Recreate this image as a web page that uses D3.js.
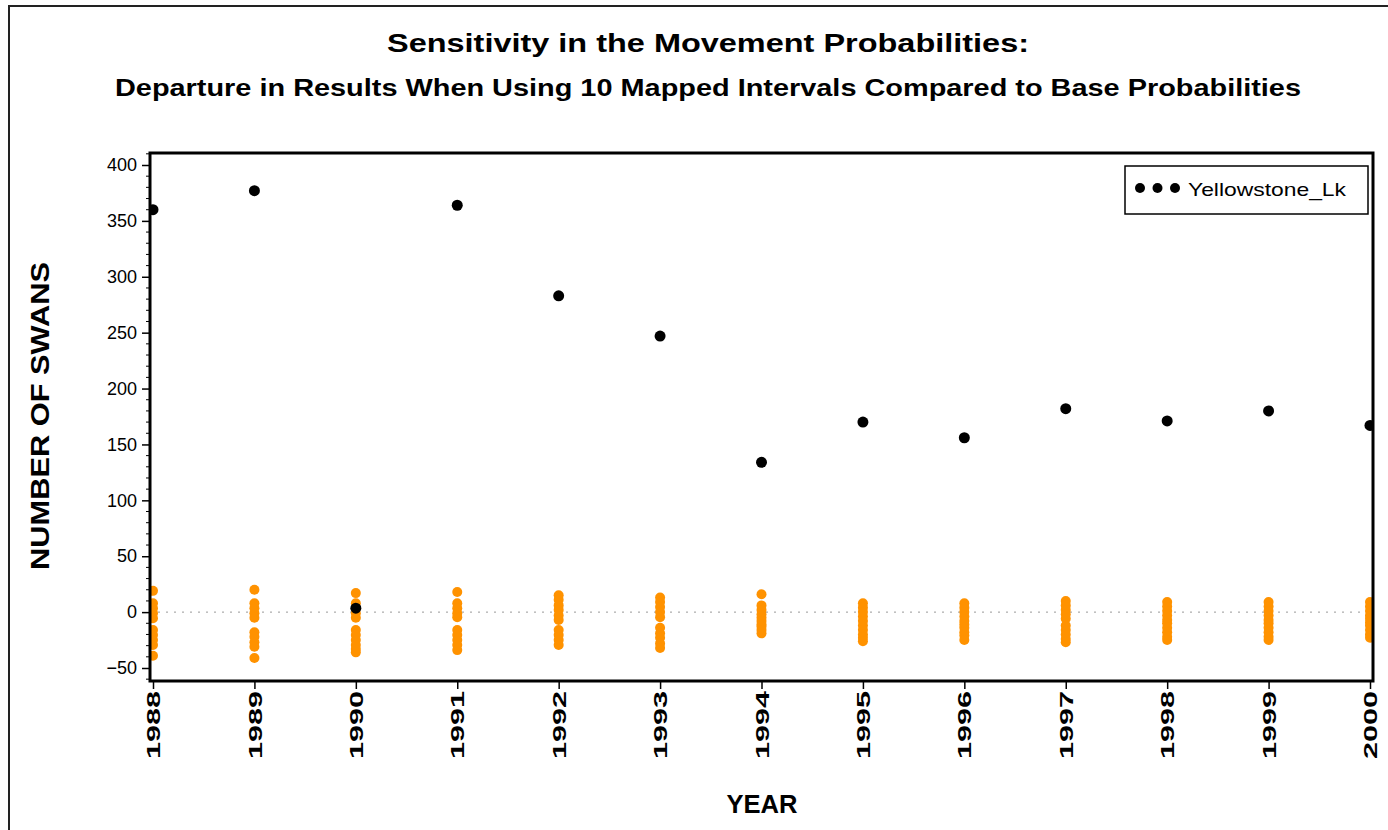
<!DOCTYPE html>
<html>
<head>
<meta charset="utf-8">
<script src="https://cdn.jsdelivr.net/npm/d3@7"></script>
<style>
  body { margin: 0; background: #fff; }
  text { font-family: "Liberation Sans", Arial, sans-serif; fill: #000; }
</style>
</head>
<body>
<div id="chart"></div>
<script>
// years on the x axis
var years = [1988, 1989, 1990, 1991, 1992, 1993, 1994, 1995, 1996, 1997, 1998, 1999, 2000];

// Yellowstone_Lk departure, one per year
var yellowstone = [360, 377, 3.5, 364, 283, 247, 134, 170, 156, 182, 171, 180, 167];

// other sites, ten departures per year (orange)
var others1988 = [19, 8, 3.5, -1, -5.5, -16, -20.5, -25, -29.5, -39];
var others1989 = [20, 8, 3.5, -1, -5, -18, -22, -27, -31, -41];
var others1990 = [17, 8, -1, -5, -16, -20.5, -25, -29.5, -33, -36];
var others1991 = [18, 8, 3.5, -1, -4.5, -16, -20.5, -25, -29.5, -34];
var others1992 = [15, 11, 6, 2, -3, -7, -16, -20.5, -25, -29.5];
var others1993 = [13, 9, 4.5, 0, -4.5, -14, -19, -23, -28, -32];
var others1994 = [16, 6, 2, -2, -5, -8, -11, -13, -16, -19];
var others1995 = [8, 4, 0, -4, -8, -12, -16, -20, -23, -26];
var others1996 = [8, 4, 0, -4, -8, -11, -14, -18, -21, -25];
var others1997 = [10, 6, 2, -2, -6, -12, -16, -20, -24, -27];
var others1998 = [9, 5, 1, -3, -7, -10, -14, -18, -22, -25];
var others1999 = [9, 5, 1, -3, -7, -10, -14, -18, -22, -25];
var others2000 = [9, 5, 1, -3, -6, -9, -12, -16, -20, -23];
var others = [others1988, others1989, others1990, others1991, others1992, others1993, others1994,
              others1995, others1996, others1997, others1998, others1999, others2000];

var yTicks = [-50, 0, 50, 100, 150, 200, 250, 300, 350, 400];

var width = 1388, height = 830;
var plot = { left: 150, right: 1373, top: 153, bottom: 681 };

var svg = d3.select("#chart").append("svg")
    .attr("width", width)
    .attr("height", height);

// outer frame
svg.append("rect")
    .attr("x", 9).attr("y", 6)
    .attr("width", width).attr("height", height)
    .style("fill", "none").style("stroke", "#222").style("stroke-width", 2);

var x = d3.scaleLinear().domain([1988, 2000]).range([153, 1370]);
var y = d3.scaleLinear().domain([-50, 400]).range([668, 165]);

// titles
svg.append("text")
    .attr("x", 708).attr("y", 52)
    .attr("text-anchor", "middle")
    .attr("textLength", 642).attr("lengthAdjust", "spacingAndGlyphs")
    .style("font-size", "26px").style("font-weight", "bold")
    .text("Sensitivity in the Movement Probabilities:");

svg.append("text")
    .attr("x", 708).attr("y", 96)
    .attr("text-anchor", "middle")
    .attr("textLength", 1186).attr("lengthAdjust", "spacingAndGlyphs")
    .style("font-size", "23px").style("font-weight", "bold")
    .text("Departure in Results When Using 10 Mapped Intervals Compared to Base Probabilities");

// clip for marks
svg.append("clipPath").attr("id", "plotClip")
  .append("rect")
    .attr("x", plot.left).attr("y", plot.top)
    .attr("width", plot.right - plot.left).attr("height", plot.bottom - plot.top);

// zero reference line
svg.append("line")
    .attr("x1", plot.left).attr("x2", plot.right)
    .attr("y1", y(0)).attr("y2", y(0))
    .style("stroke", "#999").style("stroke-width", 1)
    .style("stroke-dasharray", "2,6");

var marks = svg.append("g").attr("clip-path", "url(#plotClip)");

var orangePts = [];
others.forEach(function (vals, i) {
    vals.forEach(function (v) { orangePts.push({ year: years[i], value: v }); });
});

marks.selectAll("circle.other")
    .data(orangePts)
    .enter().append("circle")
    .attr("class", "other")
    .attr("cx", function (d) { return x(d.year); })
    .attr("cy", function (d) { return y(d.value); })
    .attr("r", 5)
    .style("fill", "#ff9200");

marks.selectAll("circle.yl")
    .data(years)
    .enter().append("circle")
    .attr("class", "yl")
    .attr("cx", function (d) { return x(d); })
    .attr("cy", function (d, i) { return y(yellowstone[i]); })
    .attr("r", 5.5)
    .style("fill", "#000");

// plot frame
svg.append("rect")
    .attr("x", plot.left).attr("y", plot.top)
    .attr("width", plot.right - plot.left).attr("height", plot.bottom - plot.top)
    .style("fill", "none").style("stroke", "#000").style("stroke-width", 3);

// y axis
var yAxis = d3.axisLeft(y).tickValues(yTicks).tickSize(8).tickPadding(5)
    .tickFormat(function (d) { return d < 0 ? "\u2212" + Math.abs(d) : d; });
var gy = svg.append("g")
    .attr("transform", "translate(" + plot.left + ",0)")
    .call(yAxis);
gy.select(".domain").remove();
gy.selectAll("text").style("font-size", "18px").style("font-family", "Liberation Sans, Arial, sans-serif");
gy.selectAll("line").style("stroke-width", 1.5);

// minor y ticks every 10
var minor = d3.range(-60, 411, 10).filter(function (v) { return v % 50 !== 0; });
svg.append("g").selectAll("line")
    .data(minor)
    .enter().append("line")
    .attr("x1", plot.left - 4).attr("x2", plot.left)
    .attr("y1", function (d) { return y(d); })
    .attr("y2", function (d) { return y(d); })
    .style("stroke", "#000").style("stroke-width", 1);

// x axis
var xAxis = d3.axisBottom(x).tickValues(years).tickSize(8).tickFormat(d3.format("d"));
var gx = svg.append("g")
    .attr("transform", "translate(0," + plot.bottom + ")")
    .call(xAxis);
gx.select(".domain").remove();
gx.selectAll("line").style("stroke-width", 1.5);
gx.selectAll("text")
    .attr("transform", "rotate(-90)")
    .attr("x", -10).attr("y", 0).attr("dy", "0.35em")
    .attr("textLength", 68).attr("lengthAdjust", "spacingAndGlyphs")
    .style("text-anchor", "end")
    .style("font-size", "19px").style("font-weight", "bold")
    .style("font-family", "Liberation Sans, Arial, sans-serif");

// axis titles
svg.append("text")
    .attr("transform", "translate(49,416) rotate(-90)")
    .attr("text-anchor", "middle")
    .attr("textLength", 308).attr("lengthAdjust", "spacingAndGlyphs")
    .style("font-size", "25px").style("font-weight", "bold")
    .text("NUMBER OF SWANS");

svg.append("text")
    .attr("x", 762).attr("y", 813)
    .attr("text-anchor", "middle")
    .attr("textLength", 71).attr("lengthAdjust", "spacingAndGlyphs")
    .style("font-size", "25px").style("font-weight", "bold")
    .text("YEAR");

// legend
var lg = svg.append("g").attr("transform", "translate(1125,166)");
lg.append("rect")
    .attr("width", 243).attr("height", 48)
    .style("fill", "#fff").style("stroke", "#000").style("stroke-width", 1.5);
lg.selectAll("circle")
    .data([0, 1, 2])
    .enter().append("circle")
    .attr("cx", function (d) { return 15 + d * 17.5; })
    .attr("cy", 22)
    .attr("r", 5)
    .style("fill", "#000");
lg.append("text")
    .attr("x", 63).attr("y", 30)
    .attr("textLength", 158).attr("lengthAdjust", "spacingAndGlyphs")
    .style("font-size", "19px")
    .text("Yellowstone_Lk");
</script>
</body>
</html>
